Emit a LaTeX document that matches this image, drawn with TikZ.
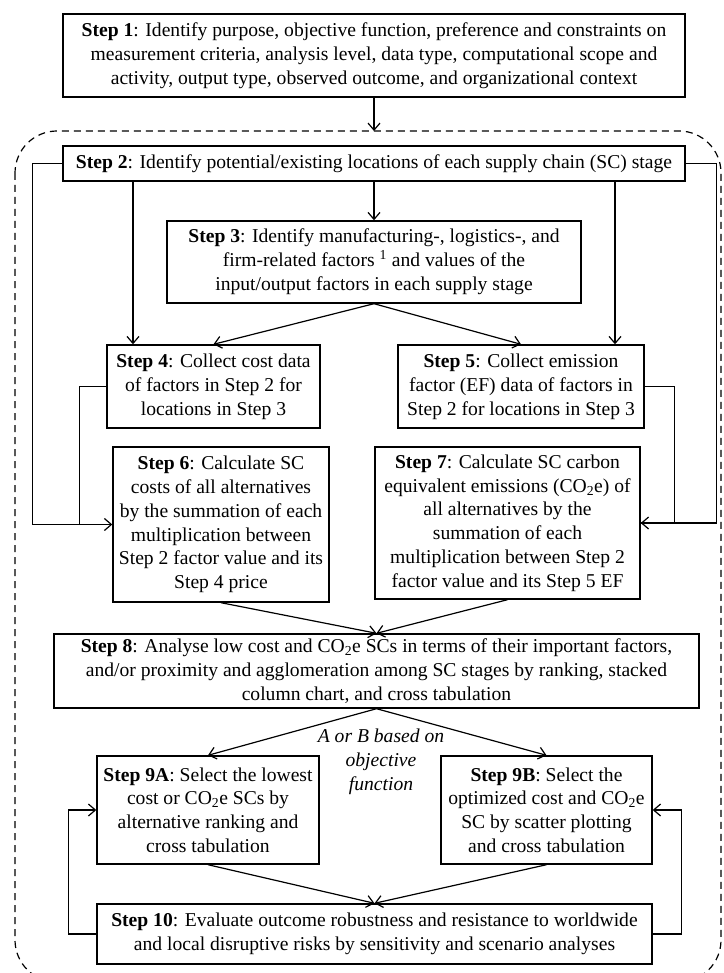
\documentclass[tikz,border=0pt]{standalone}
\usepackage{fontspec}
\setmainfont{Liberation Serif}
\usetikzlibrary{arrows.meta}
\usetikzlibrary{positioning}

\begin{document}
\begin{tikzpicture}[x=1pt,y=-1pt,
    >={Straight Barb[length=7pt,width=12pt]},
    every node/.style={font=\fontsize{19.6}{23.8}\selectfont},
    stepbox/.style={draw, line width=1.4pt, align=center, inner sep=0pt},
    link/.style={line width=1.2pt}]
    \useasboundingbox (0,0) rectangle (723,973);
    % dashed loop region
    \draw[dashed, line width=1.2pt, dash pattern=on 7pt off 5pt, rounded corners=42] (15,131) rectangle (721,982);
    \coordinate (looptop) at (374,131);

    \node[stepbox, minimum width=622, minimum height=83] (s1) at (374,55.5)
        {\textbf{Step 1}: Identify purpose, objective function, preference and constraints on\\
         measurement criteria,\ analysis level,\ data type, computational scope and\\
         activity,\ output type, observed outcome, and organizational\ context};
    \node[stepbox, minimum width=622, minimum height=35] (s2) at (374,163.5)
        {\textbf{Step 2}: Identify potential/existing\ locations of each supply chain (SC) stage};
    \node[stepbox, minimum width=414, minimum height=82] (s3) at (374,262)
        {\textbf{Step 3}: Identify manufacturing-, logistics-, and\\
         firm-related\ factors \textsuperscript{1} and values of the\\
         input/output factors in each supply stage};
    \node[stepbox, minimum width=213, minimum height=83] (s4) at (213.5,386.5)
        {\textbf{Step 4}: Collect cost data\\ of factors in Step 2 for\\ locations in Step 3};
    \node[stepbox, minimum width=246, minimum height=83] (s5) at (521,386.5)
        {\textbf{Step 5}: Collect emission\\ factor (EF) data of factors in\\ Step 2 for locations in Step 3};
    \node[stepbox, minimum width=216, minimum height=155] (s6) at (221,524.5)
        {\textbf{Step 6}: Calculate SC\\ costs of all alternatives\\ by the summation of each\\
         multiplication between\\ Step 2 factor value and its\\ Step 4 price};
    \node[stepbox, minimum width=265, minimum height=152] (s7) at (507.5,523)
        {\textbf{Step 7}: Calculate SC carbon\\ equivalent emissions (CO\textsubscript{2}e) of\\
         all alternatives\ by the\\ summation of each\\ multiplication\ between Step 2\\
         factor value and its Step 5 EF};
    \node[stepbox, minimum width=645, minimum height=74] (s8) at (376.5,671)
        {\textbf{Step 8}: Analyse low cost and CO\textsubscript{2}e SCs in terms of their important factors,\\
         and/or proximity and agglomeration among SC stages by ranking, stacked\\
         column chart, and cross tabulation};
    \node[align=center, font=\fontsize{19.6}{23.8}\selectfont\itshape] (obj) at (381,762)
        {A or B based on\\ objective\\ function};
    \node[stepbox, minimum width=222, minimum height=108] (s9a) at (208,810)
        {\textbf{Step 9A}: Select the lowest\\ cost or CO\textsubscript{2}e SCs by\\
         alternative\ ranking and\\ cross tabulation};
    \node[stepbox, minimum width=211, minimum height=108] (s9b) at (546.5,810)
        {\textbf{Step 9B}: Select the\\ optimized cost and CO\textsubscript{2}e\\
         SC by scatter plotting\\ and cross tabulation};
    \node[stepbox, minimum width=555, minimum height=60] (s10) at (374.5,934)
        {\textbf{Step 10}: Evaluate\ outcome robustness and resistance to worldwide\\
         and local\ disruptive risks by sensitivity and scenario analyses};

    \draw[link,->] (s1.south) -- (s1.south |- looptop);
    \draw[link,->] (s2.south) -- (s3.north);
    \draw[link,->] ([xshift=-80.5]s4.north |- s2.south) -- ([xshift=-80.5]s4.north);
    \draw[link,->] ([xshift=94]s5.north |- s2.south) -- ([xshift=94]s5.north);
    \draw[link,->] (s3.south) -- (s4.north);
    \draw[link,->] (s3.south) -- (s5.north);
    % side feeds into step 6 and 7
    \draw[link,->] (s2.west) -- ++(-30,0) |- (s6.west);
    \draw[link] (s4.west) -- ++(-27,0) |- (s6.west);
    \draw[link,->] (s2.east) -- ++(31,0) |- (s7.east);
    \draw[link] (s5.east) -- ++(30,0) |- (s7.east);
    \draw[link,->] (s6.south) -- (s8.north);
    \draw[link,->] (s7.south) -- (s8.north);
    \draw[link,->] (s8.south) -- (s9a.north);
    \draw[link,->] (s8.south) -- (s9b.north);
    \draw[link,->] (s9a.south) -- (s10.north);
    \draw[link,->] (s9b.south) -- (s10.north);
    \draw[link,->] (s10.west) -- ++(-28,0) |- (s9a.west);
    \draw[link,->] (s10.east) -- ++(29,0) |- (s9b.east);
\end{tikzpicture}
\end{document}
